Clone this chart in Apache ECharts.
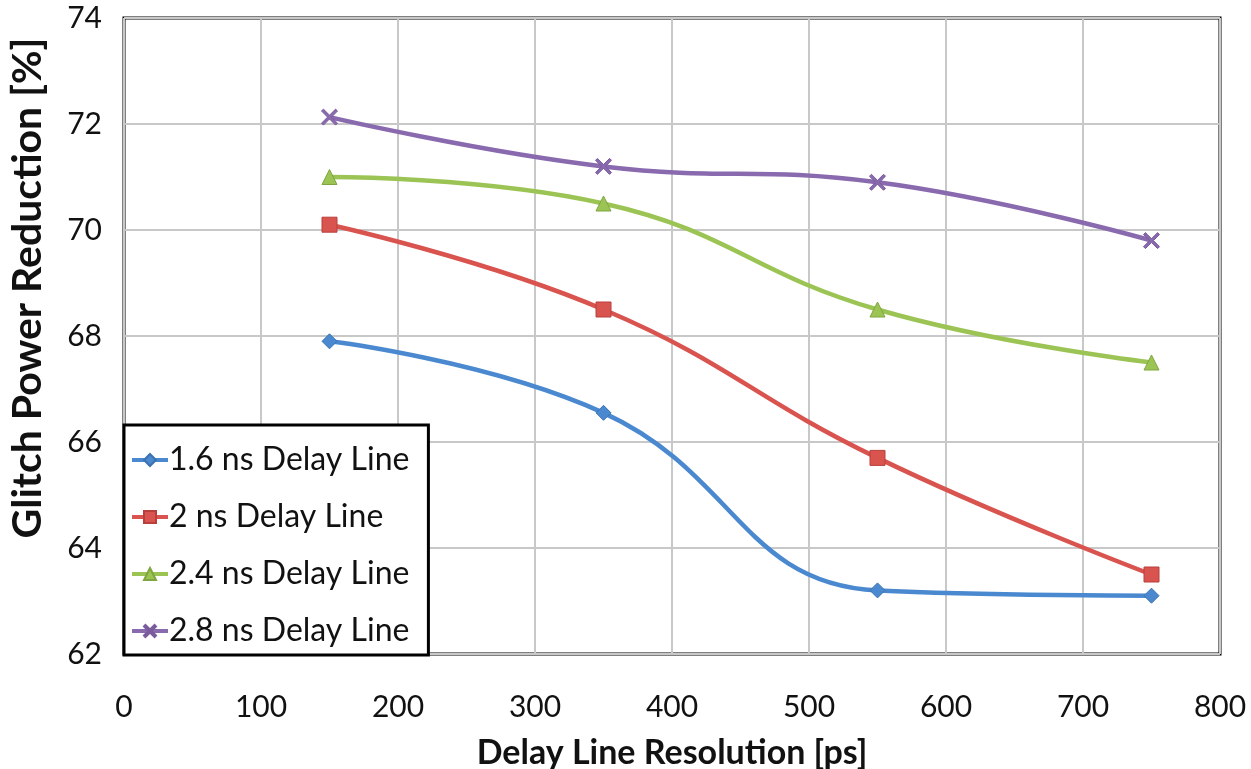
<!DOCTYPE html>
<html>
<head>
<meta charset="utf-8">
<script src="https://cdn.jsdelivr.net/npm/echarts@6/dist/echarts.min.js"></script>
<style>html,body{margin:0;padding:0;background:#fff}#c{width:1251px;height:769px}</style>
</head>
<body>
<div id="c"></div>
<script>
const resolutions = [150, 350, 550, 750];
const s16 = [67.9, 66.55, 63.2, 63.1];
const s20 = [70.1, 68.5, 65.7, 63.5];
const s24 = [71.0, 70.5, 68.5, 67.5];
const s28 = [72.13, 71.2, 70.9, 69.8];
const seriesNames = ['1.6 ns Delay Line', '2 ns Delay Line', '2.4 ns Delay Line', '2.8 ns Delay Line'];
const xTicks = [0, 100, 200, 300, 400, 500, 600, 700, 800];
const yTicks = [62, 64, 66, 68, 70, 72, 74];

const FONT = 'Lato';
const xMark = 'path://M0,1.2L1.2,0L5,3.8L8.8,0L10,1.2L6.2,5L10,8.8L8.8,10L5,6.2L1.2,10L0,8.8L3.8,5Z';
const styles = [
  {color: '#4A89CF', border: '#3C72B0', symbol: 'diamond', size: 15},
  {color: '#D9534F', border: '#B8403C', symbol: 'rect', size: 15},
  {color: '#9BC454', border: '#7FA63F', symbol: 'triangle', size: 15},
  {color: '#8A6AAE', border: '#7A5C9E', symbol: xMark, size: 16}
];
const allData = [s16, s20, s24, s28];

const chart = echarts.init(document.getElementById('c'), null, {renderer: 'canvas'});
chart.setOption({
  animation: false,
  backgroundColor: '#fff',
  grid: {left: 124, top: 18, width: 1096, height: 636, show: true, borderColor: '#000', borderWidth: 3, backgroundColor: 'transparent', containLabel: false, outerBoundsMode: 'none'},
  xAxis: {
    type: 'value', min: xTicks[0], max: xTicks[xTicks.length - 1], interval: 100,
    axisLine: {show: false}, axisTick: {show: false},
    splitLine: {show: true, lineStyle: {color: '#c8c8c8', width: 2}},
    axisLabel: {fontFamily: FONT, fontSize: 30, color: '#111', margin: 38},
    name: 'Delay Line Resolution [ps]', nameLocation: 'middle', nameGap: 82,
    nameTextStyle: {fontFamily: FONT, fontSize: 34, fontWeight: 'bold', color: '#111'}
  },
  yAxis: {
    type: 'value', min: yTicks[0], max: yTicks[yTicks.length - 1], interval: 2,
    axisLine: {show: false}, axisTick: {show: false},
    splitLine: {show: true, lineStyle: {color: '#c8c8c8', width: 2}},
    axisLabel: {fontFamily: FONT, fontSize: 30, color: '#111', margin: 22},
    name: 'Glitch Power Reduction [%]', nameLocation: 'middle', nameGap: 76,
    nameTextStyle: {fontFamily: FONT, fontSize: 41, fontWeight: 'bold', color: '#111', padding: [0, 0, 0, 96]}
  },
  legend: {
    orient: 'vertical', left: 124, top: 425,
    backgroundColor: '#fff', borderColor: '#000', borderWidth: 3,
    padding: [19, 19, 8, 6], itemGap: 25, itemWidth: 36, itemHeight: 15,
    lineStyle: {width: 4},
    textStyle: {fontFamily: FONT, fontSize: 32, color: '#111', lineHeight: 32, padding: [0, 0, 0, -4]},
    data: seriesNames
  },
  series: allData.map((d, i) => ({
    name: seriesNames[i], type: 'line', smooth: 0.45,
    data: resolutions.map((x, j) => [x, d[j]]),
    symbol: styles[i].symbol, symbolSize: styles[i].size,
    lineStyle: {color: styles[i].color, width: 4.5},
    itemStyle: {color: styles[i].color, borderColor: styles[i].border, borderWidth: 1},
    z: 3 + i
  }))
});
</script>
</body>
</html>
